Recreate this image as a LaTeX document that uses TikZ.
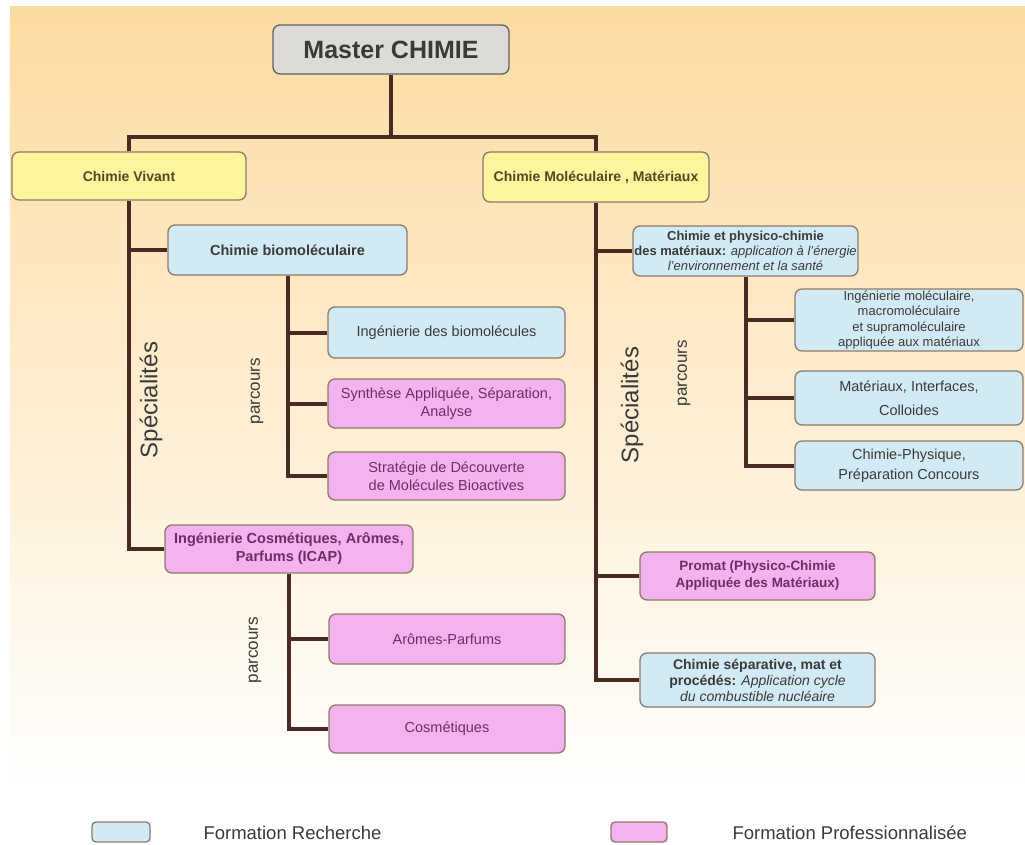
\documentclass[tikz,border=0pt]{standalone}
\usepackage{fontspec}
\setmainfont{Liberation Sans}
\definecolor{bgtop}{HTML}{FCDBA2}
\definecolor{bgmid}{HTML}{FDEDD0}
\definecolor{linkcol}{HTML}{4A2A22}
\definecolor{edgecol}{HTML}{8C7B6B}
\definecolor{greyfill}{HTML}{DCDBD8}
\definecolor{yellowfill}{HTML}{FBF59E}
\definecolor{bluefill}{HTML}{D2EAF4}
\definecolor{pinkfill}{HTML}{F4B2EE}
\definecolor{greytext}{HTML}{3A3A3A}
\definecolor{pinktext}{HTML}{6E2C6A}
\definecolor{browntext}{HTML}{5A4520}
\tikzset{
  box/.style={draw=edgecol, line width=1.3pt, rounded corners=7pt, align=center,
    inner sep=0pt, font=\fontsize{14.5}{18}\selectfont},
  headbox/.style={box, fill=greyfill, draw=greytext!80, text=greytext,
    font=\fontsize{25}{30}\selectfont\bfseries},
  fieldbox/.style={box, fill=yellowfill, text=browntext, font=\fontsize{14}{17}\selectfont\bfseries},
  research/.style={box, fill=bluefill, text=greytext},
  pro/.style={box, fill=pinkfill, text=pinktext},
  boldtext/.style={font=\fontsize{14.5}{18}\selectfont\bfseries},
  link/.style={draw=linkcol, line width=4pt},
  vlabel/.style={rotate=90, text=greytext},
}
\begin{document}
\begin{tikzpicture}[x=1pt,y=-1pt]
  \useasboundingbox (0,0) rectangle (1025,845);
  \shade[top color=bgtop, bottom color=white, middle color=bgmid] (10,7) rectangle (1025,790);

  % top levels
  \node[headbox, minimum width=236pt, minimum height=49pt] (master) at (391,49.5) {Master CHIMIE};
  \node[fieldbox, minimum width=234pt, minimum height=48pt] (vivant) at (129,176) {Chimie Vivant};
  \node[fieldbox, minimum width=226pt, minimum height=50pt] (molec) at (596,177) {Chimie Moléculaire , Matériaux};

  % Chimie Vivant
  \node[research, boldtext, minimum width=239pt, minimum height=50pt] (biomol) at (287.5,250) {Chimie biomoléculaire};
  \node[research, minimum width=237pt, minimum height=51pt] (ingbio) at (446.5,332.5) {Ingénierie des biomolécules};
  \node[pro, minimum width=237pt, minimum height=49pt] (synth) at (446.5,403.5) {Synthèse Appliquée, Séparation,\\ Analyse};
  \node[pro, minimum width=237pt, minimum height=48pt] (strat) at (446.5,476) {Stratégie de Découverte\\ de Molécules Bioactives};
  \node[pro, boldtext, minimum width=248pt, minimum height=48pt] (icap) at (289,549) {Ingénierie Cosmétiques, Arômes,\\ Parfums (ICAP)};
  \node[pro, minimum width=236pt, minimum height=50pt] (aromes) at (447,639) {Arômes-Parfums};
  \node[pro, minimum width=236pt, minimum height=48pt] (cosm) at (447,729) {Cosmétiques};

  % Chimie Moleculaire, Materiaux
  \node[research, minimum width=225pt, minimum height=50pt, font=\fontsize{13}{15}\selectfont] (physchim) at (745.5,251)
    {\textbf{Chimie et physico-chimie}\\ \textbf{des matériaux:} \textit{application à l'énergie}\\ \textit{l'environnement et la santé}};
  \node[research, minimum width=228pt, minimum height=62pt, font=\fontsize{13}{15.5}\selectfont] (ingmol) at (909,320)
    {Ingénierie moléculaire,\\ macromoléculaire\\ et supramoléculaire\\ appliquée aux matériaux};
  \node[research, minimum width=228pt, minimum height=54pt, font=\fontsize{14.5}{24}\selectfont] (interf) at (909,398) {Matériaux, Interfaces,\\ Colloides};
  \node[research, minimum width=228pt, minimum height=49pt, font=\fontsize{14.5}{20}\selectfont] (chphys) at (909,465.5) {Chimie-Physique,\\ Préparation Concours};
  \node[pro, minimum width=235pt, minimum height=48pt, font=\fontsize{13.5}{17}\selectfont\bfseries] (promat) at (757.5,576) {Promat (Physico-Chimie\\ Appliquée des Matériaux)};
  \node[research, minimum width=235pt, minimum height=54pt, font=\fontsize{14}{16}\selectfont] (separ) at (757.5,680)
    {\textbf{Chimie séparative, mat et}\\ \textbf{procédés:} \textit{Application cycle}\\ \textit{du combustible nucléaire}};

  % side labels
  \node[vlabel, font=\fontsize{24}{28}\selectfont] (spec1) at (151,400) {Spécialités};
  \node[vlabel, font=\fontsize{24}{28}\selectfont] (spec2) at (632,405) {Spécialités};
  \node[vlabel, font=\fontsize{17}{20}\selectfont] (parc1) at (257,391) {parcours};
  \node[vlabel, font=\fontsize{17}{20}\selectfont] (parc2) at (255,650) {parcours};
  \node[vlabel, font=\fontsize{17}{20}\selectfont] (parc3) at (684,373) {parcours};

  % connectors
  \coordinate (split) at (391,137);
  \draw[link] (master.south) -- (split);
  \draw[link] (vivant.north) |- (split) -| (molec.north);
  \draw[link] (vivant.south) |- (icap.west);
  \draw[link] (vivant.south |- biomol.west) -- (biomol.west);
  \draw[link] (biomol.south) |- (strat.west);
  \draw[link] (biomol.south |- ingbio.west) -- (ingbio.west);
  \draw[link] (biomol.south |- synth.west) -- (synth.west);
  \draw[link] (icap.south) |- (cosm.west);
  \draw[link] (icap.south |- aromes.west) -- (aromes.west);
  \draw[link] (molec.south) |- (separ.west);
  \draw[link] (molec.south |- physchim.west) -- (physchim.west);
  \draw[link] (molec.south |- promat.west) -- (promat.west);
  \draw[link] (physchim.south) |- (chphys.west);
  \draw[link] (physchim.south |- ingmol.west) -- (ingmol.west);
  \draw[link] (physchim.south |- interf.west) -- (interf.west);

  % legend
  \node[research, rounded corners=4pt, minimum width=58pt, minimum height=20pt] (keyres) at (121,832) {};
  \node[anchor=west, text=greytext, font=\fontsize{18.5}{22}\selectfont] (keyrestxt) at (200,833) {Formation Recherche};
  \node[pro, rounded corners=4pt, minimum width=56pt, minimum height=20pt] (keypro) at (639,832) {};
  \node[anchor=west, text=greytext, font=\fontsize{18.5}{22}\selectfont] (keyprotxt) at (729,833) {Formation Professionnalisée};
\end{tikzpicture}
\end{document}
